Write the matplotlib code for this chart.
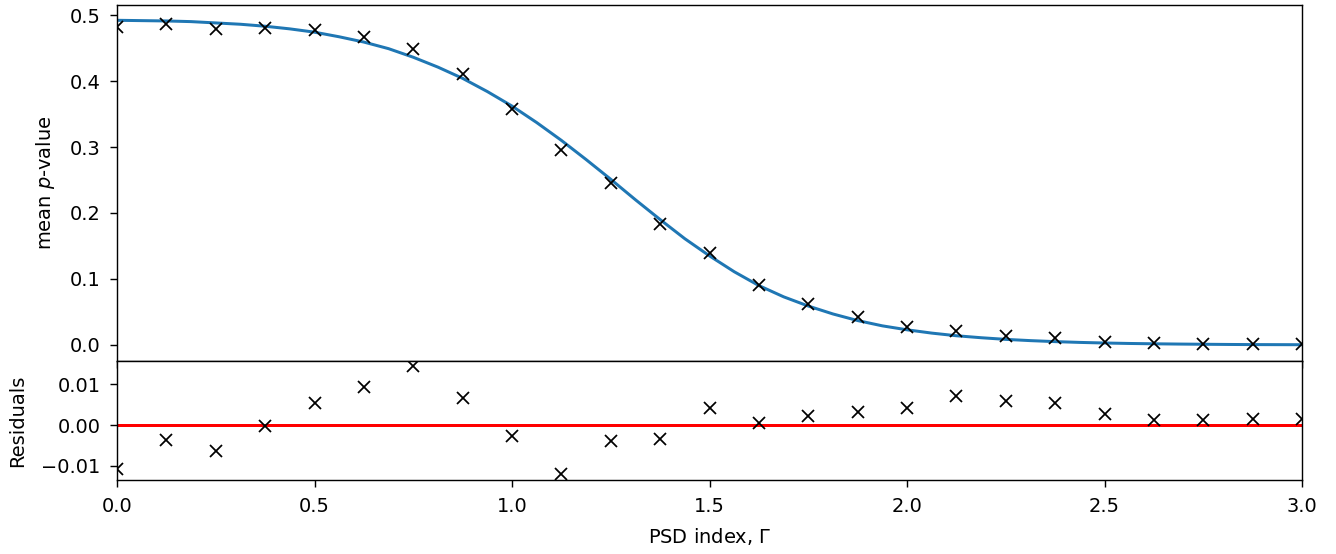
import matplotlib.pyplot as plt

# PSD index values and mean p-values
gamma = [0.0, 0.125, 0.25, 0.375, 0.5, 0.625, 0.75, 0.875, 1.0, 1.125, 1.25, 1.375,
         1.5, 1.625, 1.75, 1.875, 2.0, 2.125, 2.25, 2.375, 2.5, 2.625, 2.75, 2.875, 3.0]
pval = [0.482, 0.486, 0.479, 0.480, 0.477, 0.466, 0.449, 0.410, 0.358, 0.296, 0.245, 0.184,
        0.139, 0.091, 0.062, 0.043, 0.028, 0.021, 0.014, 0.010, 0.005, 0.003, 0.002, 0.002, 0.002]

# residuals (data - fit)
resid = [-0.0107, -0.0037, -0.0063, -0.0002, 0.0053, 0.0094, 0.0145, 0.0066, -0.0027, -0.0120,
         -0.0038, -0.0034, 0.0043, 0.0006, 0.0022, 0.0031, 0.0042, 0.0071, 0.0060, 0.0053,
         0.0027, 0.0012, 0.0012, 0.0016, 0.0016]

# fitted curve
fit_x = [i * 0.0625 for i in range(49)]
fit_y = [0.492, 0.4915, 0.491, 0.490, 0.488, 0.486, 0.483, 0.479, 0.474, 0.467, 0.459, 0.449,
         0.436, 0.421, 0.404, 0.384, 0.362, 0.337, 0.310, 0.281, 0.251, 0.220, 0.190, 0.161,
         0.135, 0.111, 0.090, 0.073, 0.059, 0.047, 0.037, 0.029, 0.023, 0.018, 0.014, 0.011,
         0.0085, 0.0066, 0.0051, 0.0039, 0.0030, 0.0023, 0.0018, 0.0014, 0.0011, 0.0008,
         0.0006, 0.0005, 0.0004]

plt.rcParams["font.size"] = 11
plt.rcParams["xtick.major.size"] = 4
plt.rcParams["ytick.major.size"] = 4
plt.rcParams["xtick.major.pad"] = 5.5
plt.rcParams["ytick.major.pad"] = 5.5

fig = plt.figure(figsize=(1336 / 127, 554 / 127), dpi=127)
ax1 = fig.add_axes([0.0876, 0.3475, 0.8870, 0.6435])
ax2 = fig.add_axes([0.0876, 0.1335, 0.8870, 0.2140], sharex=ax1)

ax1.plot(fit_x, fit_y, color="C0", lw=1.7)
ax1.plot(gamma, pval, "kx", ms=6.8)
ax1.set_ylabel("mean $p$-value", labelpad=7)
ax1.set_ylim(-0.025, 0.5152)
ax1.tick_params(labelbottom=False)

ax2.axhline(0, color="red", lw=1.7)
ax2.plot(gamma, resid, "kx", ms=6.8)
ax2.set_ylim(-0.0135, 0.0156)
ax2.set_yticks([-0.01, 0.0, 0.01])
ax2.set_ylabel("Residuals", labelpad=8)
ax2.set_xlabel("PSD index, $\\Gamma$", labelpad=6)
ax2.set_xlim(0, 3)

fig.savefig("out.png", dpi=127)
